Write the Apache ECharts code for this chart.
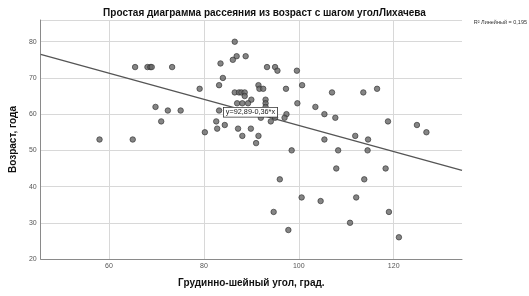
<!DOCTYPE html>
<html>
<head>
<meta charset="utf-8">
<script src="https://cdn.jsdelivr.net/npm/echarts@6/dist/echarts.min.js"></script>
<style>html,body{margin:0;padding:0;background:#fff}#c{width:529px;height:296px}</style>
</head>
<body>
<div id="c"></div>
<script>
// Data
const angle = [58, 65, 65.5, 68.1, 68.7, 69, 73.3, 69.8, 72.4, 75.1, 71,
  86.5, 86.9, 86.1, 88.8, 83.5, 93.3, 95, 95.5, 99.6, 84, 83.2, 100.7, 79.1, 91.5, 91.7, 92.5, 97.3,
  86.5, 87.4, 87.9, 88.6, 88.6, 90, 93, 93, 93, 87, 88.1, 89.3, 99.7, 103.5, 83.2, 92, 95, 97.4, 97,
  94.1, 82.6, 84.4, 82.8, 87.2, 89.9, 80.2, 88.1, 91.5, 91, 98.5, 96, 100.6, 104.6, 94.7, 97.8,
  107, 113.6, 116.5, 105.4, 107.7, 118.8, 124.9, 126.9, 105.4, 111.9, 114.6, 108.3, 114.5, 107.9,
  118.3, 113.8, 112.1, 119, 110.8, 121.1];
const age = [53, 53, 73, 73, 73, 73, 73, 62, 61, 61, 58,
  80, 76, 75, 76, 74, 73, 73, 72, 72, 70, 68, 68, 67, 68, 67, 67, 67,
  66, 66, 66, 66, 65, 64, 64, 63, 62, 63, 63, 63, 63, 62, 61, 59, 59, 60, 59,
  58, 58, 57, 56, 56, 56, 55, 54, 54, 52, 50, 42, 37, 36, 33, 28,
  66, 66, 67, 60, 59, 58, 57, 55, 53, 54, 53, 50, 50, 45,
  45, 42, 37, 33, 30, 26];
const xTicks = [60, 80, 100, 120];
const xRange = [45.6, 134.4];
const yRange = [20, 86];
const fitIntercept = 92.89;
const fitSlope = -0.36;
const titleText = 'Простая диаграмма рассеяния из возраст с шагом уголЛихачева';
const xName = 'Грудинно-шейный угол, град.';
const yName = 'Возраст, года';
const eqText = 'y=92,89-0,36*x';
const r2Text = 'R² Линейный = 0,195';

const points = angle.map((a, i) => [a, age[i]]);
const fitLine = xRange.map(x => [x, fitIntercept + fitSlope * x]);

const chart = echarts.init(document.getElementById('c'), null, {renderer: 'canvas'});
const font = 'Liberation Sans, Arial, sans-serif';
chart.setOption({
  animation: false,
  backgroundColor: '#fff',
  title: {
    text: titleText, left: 'center', top: 3,
    textStyle: {fontFamily: font, fontSize: 10, fontWeight: 'bold', color: '#111'}
  },
  grid: {left: 40, right: 67, top: 20, bottom: 37},
  xAxis: {
    type: 'value', min: xRange[0], max: xRange[1],
    name: xName, nameLocation: 'middle', nameGap: 19,
    nameTextStyle: {fontFamily: font, fontSize: 10, fontWeight: 'bold', color: '#111'},
    axisLine: {show: true, lineStyle: {color: '#8a8a8a', width: 1}},
    axisTick: {show: false, customValues: xTicks},
    axisLabel: {customValues: xTicks, fontFamily: font, fontSize: 7, color: '#555', margin: 4},
    splitLine: {show: true, lineStyle: {color: '#d8d8d8', width: 1}}
  },
  yAxis: {
    type: 'value', min: yRange[0], max: yRange[1], interval: 10,
    name: yName, nameLocation: 'middle', nameGap: 20,
    nameTextStyle: {fontFamily: font, fontSize: 10, fontWeight: 'bold', color: '#111'},
    axisLine: {show: true, lineStyle: {color: '#8a8a8a', width: 1}},
    axisTick: {show: false},
    axisLabel: {fontFamily: font, fontSize: 7, color: '#555', margin: 4, showMaxLabel: false},
    splitLine: {show: true, lineStyle: {color: '#d8d8d8', width: 1}}
  },
  series: [
    {
      type: 'line', data: fitLine, symbol: 'none', silent: true,
      lineStyle: {color: '#555', width: 1.3}, z: 2
    },
    {
      type: 'scatter', data: points, symbol: 'circle', symbolSize: 5.5,
      itemStyle: {color: '#666', borderColor: '#2e2e2e', borderWidth: 0.8}, z: 3
    }
  ],
  graphic: [
    {
      type: 'text', left: 223, top: 107, z: 10,
      style: {
        text: eqText, font: '7.3px ' + font, fill: '#222',
        backgroundColor: '#fff', borderColor: '#333', borderWidth: 0.8, padding: [1, 2, 1, 2]
      }
    },
    {
      type: 'text', right: 2, top: 19, z: 10,
      style: {text: r2Text, font: '5.5px ' + font, fill: '#333'}
    }
  ]
});
</script>
</body>
</html>
